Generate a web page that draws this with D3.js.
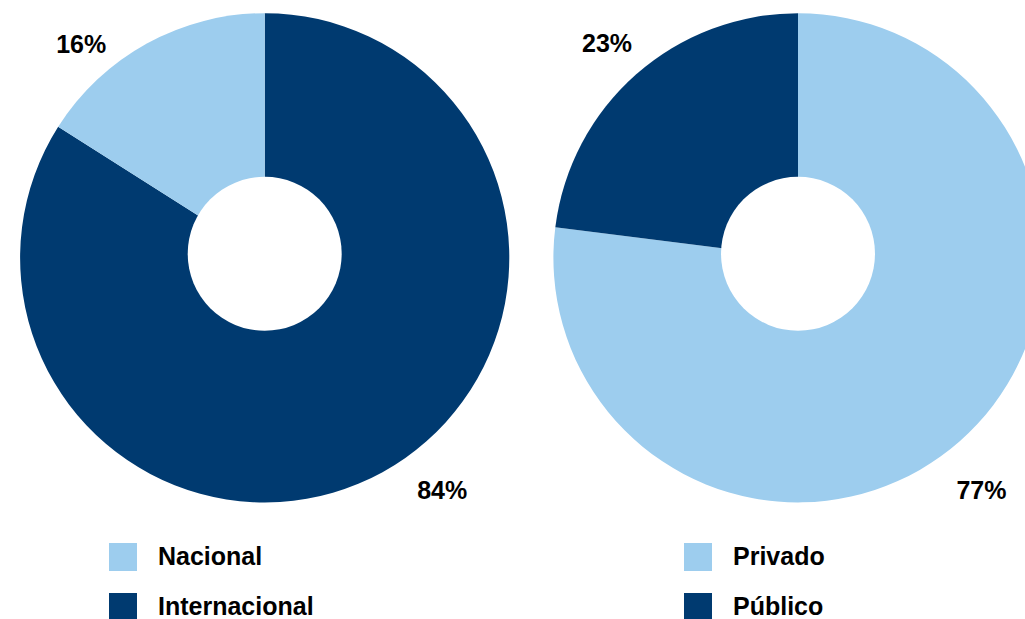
<!DOCTYPE html>
<html>
<head>
<meta charset="utf-8">
<script src="https://cdn.jsdelivr.net/npm/d3@7"></script>
<style>
  html, body { margin: 0; padding: 0; background: #fff; overflow: hidden; }
  svg { display: block; font-family: "Liberation Sans", Arial, sans-serif; }
</style>
</head>
<body>
<svg id="chart" width="1025" height="619"></svg>
<script>
// ---- data ----
const leftCategories = ["Internacional", "Nacional"];
const leftValues = [84, 16];
const rightCategories = ["Privado", "Público"];
const rightValues = [77, 23];
const legendLeft = ["Nacional", "Internacional"];
const legendRight = ["Privado", "Público"];

// ---- styles / layout ----
const LIGHT = "#9dcdee";
const DARK = "#003a70";
const colorMap = {
  "Nacional": LIGHT, "Internacional": DARK,
  "Privado": LIGHT, "Público": DARK
};

const svg = d3.select("#chart");
const outerR = 244.6;
const holeR = 77;

const charts = [
  { cx: 264.7, cy: 257.8, cats: leftCategories, vals: leftValues,
    labelPos: [[177.5, 241], [-183.5, -205]] },
  { cx: 798, cy: 257.8, cats: rightCategories, vals: rightValues,
    labelPos: [[183.5, 241], [-191, -206]] }
];

const pie = d3.pie().sort(null).value(d => d.v);
const arc = d3.arc().innerRadius(0).outerRadius(outerR);

charts.forEach(c => {
  const data = c.cats.map((k, i) => ({ k, v: c.vals[i] }));
  const total = d3.sum(c.vals);
  const g = svg.append("g").attr("transform", `translate(${c.cx},${c.cy})`);
  g.selectAll("path.slice")
    .data(pie(data))
    .join("path")
    .attr("class", "slice")
    .attr("d", arc)
    .attr("fill", d => colorMap[d.data.k]);
  g.append("circle")
    .attr("cx", 0).attr("cy", -4)
    .attr("r", holeR)
    .attr("fill", "#fff");
  g.selectAll("text.lbl")
    .data(pie(data))
    .join("text")
    .attr("class", "lbl")
    .attr("x", (d, i) => c.labelPos[i][0])
    .attr("y", (d, i) => c.labelPos[i][1])
    .attr("text-anchor", "middle")
    .attr("font-size", 25)
    .attr("font-weight", "bold")
    .attr("fill", "#000")
    .text(d => Math.round(d.data.v / total * 100) + "%");
});

function legend(items, x, y0) {
  const g = svg.append("g");
  items.forEach((name, i) => {
    const y = y0 + i * 50;
    g.append("rect")
      .attr("x", x).attr("y", y)
      .attr("width", 28).attr("height", 28)
      .attr("fill", colorMap[name]);
    g.append("text")
      .attr("x", x + 49).attr("y", y + 22)
      .attr("font-size", 25)
      .attr("font-weight", "bold")
      .attr("fill", "#000")
      .text(name);
  });
}
legend(legendLeft, 109, 543);
legend(legendRight, 684, 543);
</script>
</body>
</html>
